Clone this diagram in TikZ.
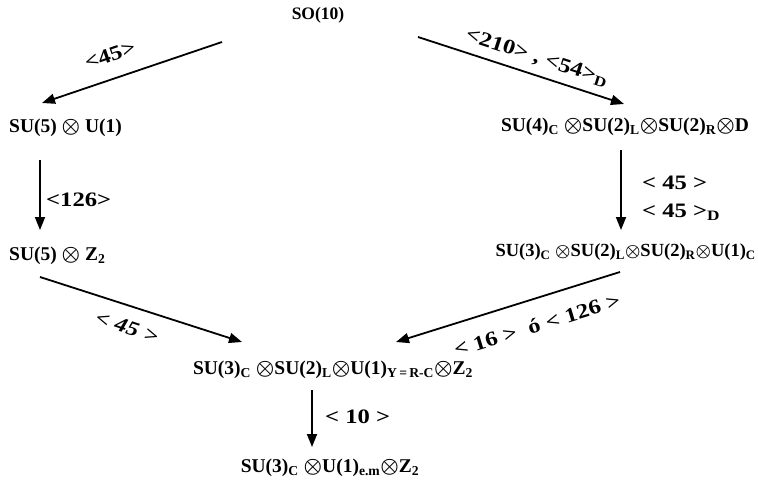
\documentclass[tikz,border=0pt]{standalone}
\usepackage{fontspec}
\setmainfont{Liberation Serif}[BoldFont={Liberation Serif Bold}]
\newfontfamily\lblfont{Liberation Serif Bold}[FakeStretch=1.2]
\newfontfamily\lblitfont{Liberation Serif Bold Italic}[FakeStretch=1.2]
\usetikzlibrary{arrows.meta}
\usepackage{amsmath,bm}
\newcommand{\ot}{\ensuremath{\boldsymbol{\otimes}}}
\newcommand{\sbs}[1]{\textsubscript{#1}}
\begin{document}
\begin{tikzpicture}[x=1pt,y=-1pt,
  grp/.style={font=\bfseries\fontsize{19.5}{21}\selectfont, inner sep=0pt},
  lbl/.style={font=\lblfont\fontsize{20.5}{22}\selectfont, inner sep=0pt},
  conn/.style={line width=1.8pt, -{Triangle[length=13pt,width=10pt]}}]
\useasboundingbox (0,0) rectangle (758,487);
\node[grp, font=\bfseries\fontsize{17.5}{19}\selectfont] (so) at (318,15) {SO(10)};
\node[grp, anchor=west] (su5u1) at (9,128) {SU(5) \ot{} U(1)};
\node[grp, anchor=west] (su5z2) at (9,256) {SU(5) \ot{} Z\sbs{2}};
\node[grp] (ps) at (625,127) {SU(4)\sbs{C} \ot SU(2)\sbs{L}\ot SU(2)\sbs{R}\ot D};
\node[grp, font=\bfseries\fontsize{18.5}{20}\selectfont, anchor=east] (lr) at (756,252) {SU(3)\sbs{C} \ot SU(2)\sbs{L}\ot SU(2)\sbs{R}\ot U(1)\sbs{C}};
\node[grp] (sm) at (333,370) {SU(3)\sbs{C} \ot SU(2)\sbs{L}\ot U(1)\sbs{Y\,=\,R-C}\ot Z\sbs{2}};
\node[grp] (em) at (330,468) {SU(3)\sbs{C} \ot U(1)\sbs{e.m}\ot Z\sbs{2}};
\coordinate (a1s) at (222,42); \coordinate (a1e) at (42,103);
\coordinate (a2s) at (40,160); \coordinate (a2e) at (40,230);
\coordinate (a3s) at (40,277); \coordinate (a3e) at (242,342);
\coordinate (b1s) at (418,37); \coordinate (b1e) at (624,104);
\coordinate (b2s) at (621,150); \coordinate (b2e) at (621,230);
\coordinate (b3s) at (620,272); \coordinate (b3e) at (396,342);
\coordinate (c1s) at (312,390); \coordinate (c1e) at (312,447);
\draw[conn] (a1s) -- (a1e);
\draw[conn] (a2s) -- (a2e);
\draw[conn] (a3s) -- (a3e);
\draw[conn] (b1s) -- (b1e);
\draw[conn] (b2s) -- (b2e);
\draw[conn] (b3s) -- (b3e);
\draw[conn] (c1s) -- (c1e);
\node[lbl, rotate=19] (l1) at (110,55) {<45>};
\node[lbl, anchor=west] (l2) at (46,200) {<126>};
\node[lbl, font=\lblitfont\fontsize{20.5}{22}\selectfont, rotate=-18] (l3) at (127,327) {< 45 >};
\node[lbl, rotate=-18] (l4) at (537,58) {<210> , <54>\sbs{D}};
\node[lbl, anchor=west] (l5) at (642,183) {< 45 >};
\node[lbl, anchor=west] (l6) at (642,212) {< 45 >\sbs{D}};
\node[lbl, rotate=17] (l7) at (537,325) {< 16 >\ \ ó < 126 >};
\node[lbl, anchor=west] (l8) at (325,417) {< 10 >};
\end{tikzpicture}
\end{document}
